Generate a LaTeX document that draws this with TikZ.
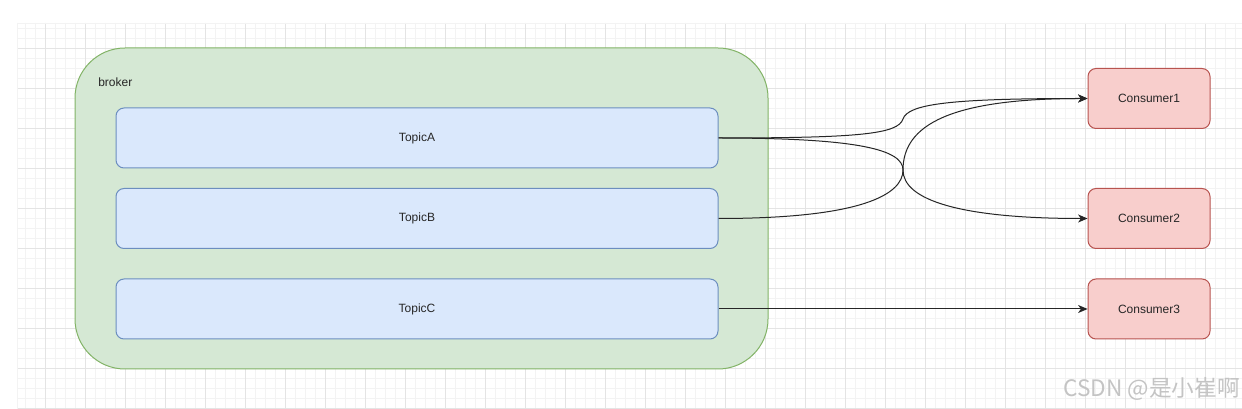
\documentclass[tikz,border=0pt]{standalone}
\usepackage{fontspec}
\setmainfont{Liberation Sans}
\newfontfamily\cjkfont{Noto Sans CJK SC}
\usetikzlibrary{arrows.meta}
\definecolor{gfill}{HTML}{D5E8D4}
\definecolor{gline}{HTML}{82B366}
\definecolor{bfill}{HTML}{DAE8FC}
\definecolor{bline}{HTML}{6C8EBF}
\definecolor{rfill}{HTML}{F8CECC}
\definecolor{rline}{HTML}{B85450}
\definecolor{gridminor}{HTML}{F3F3F3}
\definecolor{gridmajor}{HTML}{E4E4E4}
\definecolor{wmark}{HTML}{C4C4C4}
\tikzset{
  topicbox/.style={draw=bline, fill=bfill, line width=0.75pt, rounded corners=6pt,
    minimum width=451.5pt, minimum height=45pt, font=\fontsize{9}{11}\selectfont, text=black!85},
  consbox/.style={draw=rline, fill=rfill, line width=0.75pt, rounded corners=6pt,
    minimum width=91.5pt, minimum height=45pt, font=\fontsize{9}{11}\selectfont, text=black!85},
  brokerbox/.style={draw=gline, fill=gfill, line width=0.75pt, rounded corners=37.5pt,
    minimum width=519.75pt, minimum height=240.75pt},
  arr/.style={draw=black!85, line width=0.75pt, -{Stealth[length=7pt,width=6pt,inset=2pt]}},
}
\begin{document}
\begin{tikzpicture}[x=0.75pt,y=-0.75pt]
\useasboundingbox (0,0) rectangle (1242,409);
\fill[white] (0,0) rectangle (1242,409);
% grid
\foreach \x in {25,35,...,1235} \draw[gridminor, line width=0.6pt] (\x,23) -- (\x,409);
\foreach \y in {28,38,...,408} \draw[gridminor, line width=0.6pt] (17,\y) -- (1242,\y);
\foreach \x in {45,85,...,1242} \draw[gridmajor, line width=0.7pt] (\x,23) -- (\x,409);
\foreach \y in {48,88,...,408} \draw[gridmajor, line width=0.7pt] (17,\y) -- (1242,\y);
\draw[gridminor, line width=0.6pt] (17,23) -- (1242,23);
\draw[gridminor, line width=0.6pt] (17,23) -- (17,409);
% broker
\node[brokerbox] (broker) at (421.5,208.5) {};
\node[anchor=west, inner sep=0pt, font=\fontsize{9}{11}\selectfont, text=black!85] (brokerlabel) at (98,82) {broker};
% topics
\node[topicbox] (A) at (417,138) {TopicA};
\node[topicbox] (B) at (417,218.5) {TopicB};
\node[topicbox] (C) at (417,309) {TopicC};
% consumers
\node[consbox] (C1) at (1149,98.5) {Consumer1};
\node[consbox] (C2) at (1149,218.5) {Consumer2};
\node[consbox] (C3) at (1149,309) {Consumer3};
% edges
\draw[arr] (A.east) .. controls (860,138) and (898,134) .. (903,119) .. controls (908,104) and (950,98.5) .. (C1.west);
\draw[arr] (A.east) .. controls (860,138) and (903,150) .. (903,170) .. controls (903,200) and (960,218.5) .. (C2.west);
\draw[arr] (B.east) .. controls (860,218.5) and (903,195) .. (903,170) .. controls (903,125) and (950,98.5) .. (C1.west);
\draw[arr] (C.east) -- (C3.west);
% watermark
\node[anchor=east, inner sep=0pt, font=\cjkfont\fontsize{17}{20}\selectfont, text=wmark] (wm) at (1240,389) {CSDN @是小崔啊};
\end{tikzpicture}
\end{document}
